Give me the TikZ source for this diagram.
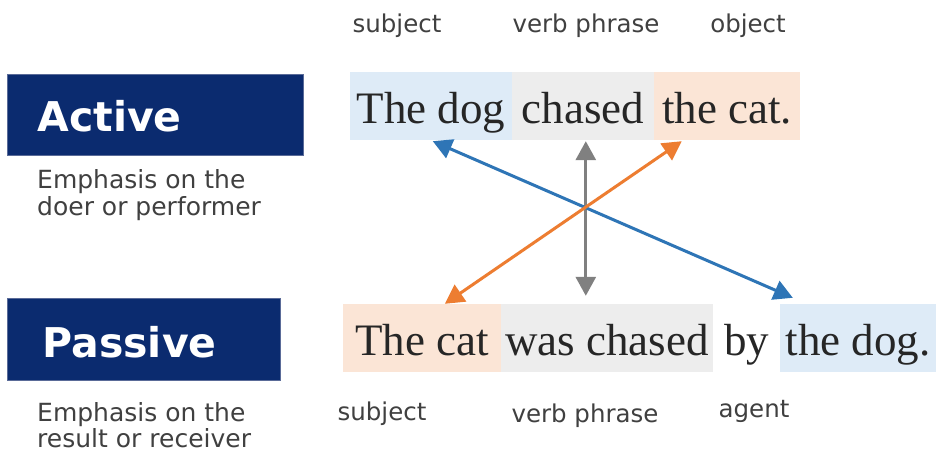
\documentclass[tikz,border=0pt]{standalone}
\usepackage{fontspec}
\setmainfont{Liberation Serif}
\newfontfamily\dvsans{DejaVu Sans}
\usetikzlibrary{arrows.meta}
\definecolor{navy}{HTML}{0B2B6F}
\definecolor{navyedge}{HTML}{5A6B98}
\definecolor{lblue}{HTML}{DEEBF7}
\definecolor{lgray}{HTML}{EDEDED}
\definecolor{lorange}{HTML}{FBE5D6}
\definecolor{abluec}{HTML}{2E75B6}
\definecolor{aorange}{HTML}{ED7D31}
\definecolor{agray}{HTML}{808080}
\definecolor{txtgray}{HTML}{404040}
\begin{document}
\begin{tikzpicture}[x=1pt,y=-1pt,
 lbl/.style={font=\dvsans\fontsize{24.5}{28}\selectfont, text=txtgray, inner sep=0pt, anchor=base},
 note/.style={font=\dvsans\fontsize{25}{27}\selectfont, text=txtgray, inner sep=0pt, anchor=base west, align=left},
 voice/.style={fill=navy, draw=navyedge, line width=1pt, font=\dvsans\bfseries\fontsize{41}{48}\selectfont, text=white, inner ysep=0pt, align=left, anchor=south west},
 phrase/.style={inner sep=0pt, text height=51pt, text depth=17pt, font=\fontsize{45}{54}\selectfont, text=black!85, anchor=base},
 conn/.style={line width=3pt, {Triangle[length=19pt,width=20pt]}-{Triangle[length=19pt,width=20pt]}},
]
\useasboundingbox (0,0) rectangle (936,455);
\fill[white] (0,0) rectangle (936,455);

% voice boxes
\node[voice, minimum width=296pt, minimum height=81pt, inner xsep=30pt, text width=236pt, text height=57pt, text depth=24pt] (active) at (7,156) {Active};
\node[voice, minimum width=273pt, minimum height=82pt, inner xsep=35pt, text width=203pt, text height=59pt, text depth=23pt] (passive) at (7,381) {Passive};

\node[note] (activenote) at (37,215) {Emphasis on the\\doer or performer};
\node[note, font=\dvsans\fontsize{25}{25.5}\selectfont] (passivenote) at (37,447) {Emphasis on the\\result or receiver};

% active sentence
\node[phrase, fill=lblue, minimum width=162pt] (dogA) at (431,123) {The dog};
\node[phrase, fill=lgray, minimum width=142pt] (verbA) at (583,123) {chased};
\node[phrase, fill=lorange, minimum width=146pt] (catA) at (727,123) {the cat.};

% passive sentence
\node[phrase, fill=lorange, minimum width=158pt] (catB) at (422,355) {The cat};
\node[phrase, fill=lgray, minimum width=212pt] (verbB) at (607,355) {was chased};
\node[phrase, minimum width=67pt] (byB) at (746.5,355) {by};
\node[phrase, fill=lblue, minimum width=156pt] (dogB) at (858,355) {the dog.};

% labels
\node[lbl] (subjA) at (397,32) {subject};
\node[lbl] (vpA) at (586,32) {verb phrase};
\node[lbl] (objA) at (748,32) {object};
\node[lbl] (subjB) at (382,420) {subject};
\node[lbl] (vpB) at (585,422) {verb phrase};
\node[lbl] (agentB) at (754,417) {agent};

% connectors
\draw[conn, agray] ([xshift=74pt,yshift=-1pt]verbA.south west) -- ([xshift=85pt,yshift=8pt]verbB.north west);
\draw[conn, abluec] ([xshift=83pt,yshift=-1pt]dogA.south west) -- ([xshift=13pt,yshift=6pt]dogB.north west);
\draw[conn, aorange] ([xshift=28pt,yshift=-1pt]catA.south west) -- ([xshift=102pt]catB.north west);
\end{tikzpicture}
\end{document}
